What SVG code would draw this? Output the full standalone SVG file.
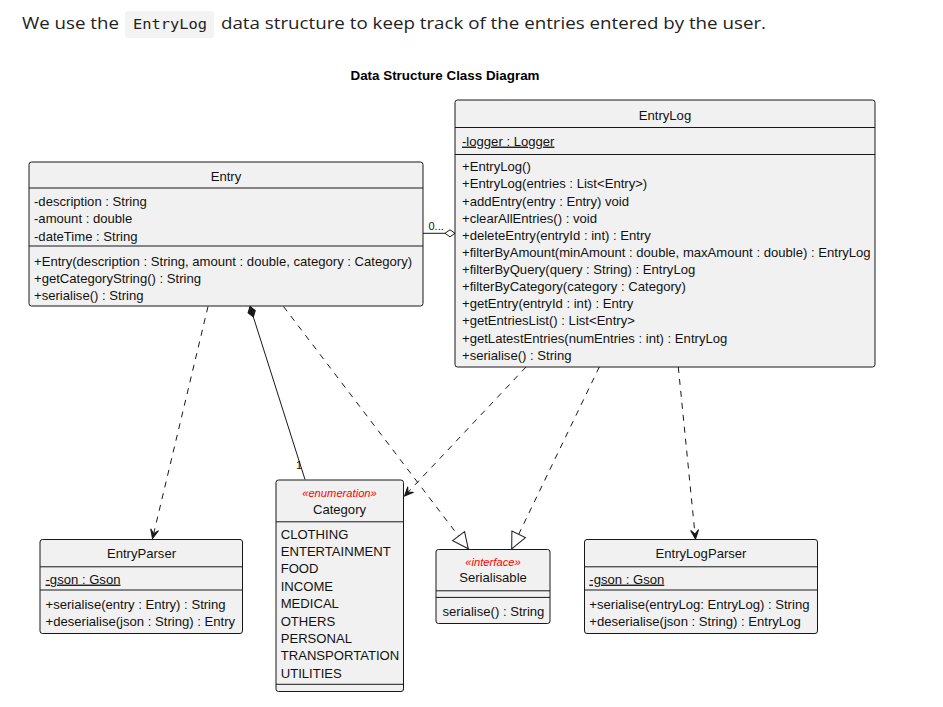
<svg xmlns="http://www.w3.org/2000/svg" width="943" height="707" viewBox="0 0 943 707">
<style>
.box{fill:#F1F1F1;stroke:#181818;stroke-width:1}
.div{stroke:#181818;stroke-width:1}
.t{font-family:"Liberation Sans",Arial,sans-serif;font-size:13.1px;fill:#111}
.c{text-anchor:middle}
.st{font-family:"Liberation Sans",Arial,sans-serif;font-size:11.2px;font-style:italic;fill:#FF0000;text-anchor:middle}
.u{text-decoration:underline}
.dash{fill:none;stroke:#181818;stroke-width:1;stroke-dasharray:6,6}
.solid{fill:none;stroke:#181818;stroke-width:1}
.lbl{font-family:"Liberation Sans",Arial,sans-serif;font-size:11px;fill:#111}
.hd{font-family:"Open Sans","Noto Sans",sans-serif;font-size:17px;fill:#222}
</style>
<defs>
<marker id="arrow" markerUnits="userSpaceOnUse" orient="auto" refX="0" refY="0" markerWidth="20" markerHeight="20" overflow="visible">
<path d="M0,0 L-9,-4 L-5,0 L-9,4 Z" fill="#181818" stroke="#181818" stroke-width="1" stroke-dasharray="none"/>
</marker>
<marker id="tri" markerUnits="userSpaceOnUse" orient="auto" refX="0" refY="0" markerWidth="20" markerHeight="20" overflow="visible">
<path d="M0,0 L-16,-7.5 L-16,7.5 Z" fill="#FFFFFF" stroke="#181818" stroke-width="1" stroke-dasharray="none"/>
</marker>
<marker id="diamondF" markerUnits="userSpaceOnUse" orient="auto" refX="0" refY="0" markerWidth="20" markerHeight="20" overflow="visible">
<path d="M0,0 L5.5,-3.8 L11,0 L5.5,3.8 Z" fill="#181818" stroke="#181818" stroke-width="1" stroke-dasharray="none"/>
</marker>
<marker id="diamondO" markerUnits="userSpaceOnUse" orient="auto" refX="0" refY="0" markerWidth="20" markerHeight="20" overflow="visible">
<path d="M0,0 L-5,-3.5 L-10,0 L-5,3.5 Z" fill="#FFFFFF" stroke="#181818" stroke-width="1" stroke-dasharray="none"/>
</marker>
</defs>
<rect x="0" y="0" width="943" height="707" fill="#FFFFFF"/>

<g id="header">
<text class="hd" x="22" y="29" textLength="97" lengthAdjust="spacingAndGlyphs">We use the</text>
<rect x="125" y="11" width="89" height="27" rx="3" fill="#F3F3F3"/>
<text x="133" y="29" font-family="'DejaVu Sans Mono','Liberation Mono',monospace" font-size="14.5" fill="#222" textLength="74" lengthAdjust="spacingAndGlyphs">EntryLog</text>
<text class="hd" x="221" y="29" textLength="545" lengthAdjust="spacingAndGlyphs">data structure to keep track of the entries entered by the user.</text>
<text x="445" y="80" font-family="'Liberation Sans',Arial,sans-serif" font-size="13.4" font-weight="bold" fill="#000" text-anchor="middle">Data Structure Class Diagram</text>
</g>

<g id="connectors">
<line class="dash" x1="208" y1="306.5" x2="152.5" y2="538.5" marker-end="url(#arrow)"/>
<line class="solid" x1="250" y1="306.5" x2="305" y2="479.5" marker-start="url(#diamondF)"/>
<text class="lbl" x="296" y="469">1</text>
<line class="dash" x1="283.5" y1="306.5" x2="468.3" y2="548.8" marker-end="url(#tri)"/>
<line class="dash" x1="526" y1="367" x2="404.5" y2="496" marker-end="url(#arrow)"/>
<line class="dash" x1="599.3" y1="367" x2="511.7" y2="548.8" marker-end="url(#tri)"/>
<line class="dash" x1="678.3" y1="367" x2="695.5" y2="539" marker-end="url(#arrow)"/>
<line class="solid" x1="423" y1="233.3" x2="455" y2="233.3" marker-end="url(#diamondO)"/>
<text class="lbl" x="428.5" y="230">0...</text>
</g>

<g id="Entry">
<rect class="box" x="29" y="162" width="394" height="144" rx="2.5"/>
<line class="div" x1="29" y1="188" x2="423" y2="188"/>
<line class="div" x1="29" y1="246" x2="423" y2="246"/>
<text class="t c" x="226" y="180.5">Entry</text>
<text class="t" x="34" y="206.3">-description : String</text>
<text class="t" x="34" y="223.3">-amount : double</text>
<text class="t" x="34" y="240.5">-dateTime : String</text>
<text class="t" x="34" y="266.3">+Entry(description : String, amount : double, category : Category)</text>
<text class="t" x="34" y="283.1">+getCategoryString() : String</text>
<text class="t" x="34" y="299.9">+serialise() : String</text>
</g>

<g id="EntryLog">
<rect class="box" x="455" y="100" width="420" height="267" rx="2.5"/>
<line class="div" x1="455" y1="127.5" x2="875" y2="127.5"/>
<line class="div" x1="455" y1="154.5" x2="875" y2="154.5"/>
<text class="t c" x="665" y="120.3">EntryLog</text>
<text class="t u" x="462" y="145.6">-logger : Logger</text>
<text class="t" x="462" y="171.3">+EntryLog()</text>
<text class="t" x="462" y="188.4">+EntryLog(entries : List&lt;Entry&gt;)</text>
<text class="t" x="462" y="205.5">+addEntry(entry : Entry) void</text>
<text class="t" x="462" y="222.7">+clearAllEntries() : void</text>
<text class="t" x="462" y="239.8">+deleteEntry(entryId : int) : Entry</text>
<text class="t" x="462" y="256.9">+filterByAmount(minAmount : double, maxAmount : double) : EntryLog</text>
<text class="t" x="462" y="274">+filterByQuery(query : String) : EntryLog</text>
<text class="t" x="462" y="291.1">+filterByCategory(category : Category)</text>
<text class="t" x="462" y="308.3">+getEntry(entryId : int) : Entry</text>
<text class="t" x="462" y="325.4">+getEntriesList() : List&lt;Entry&gt;</text>
<text class="t" x="462" y="342.5">+getLatestEntries(numEntries : int) : EntryLog</text>
<text class="t" x="462" y="359.6">+serialise() : String</text>
</g>

<g id="EntryParser">
<rect class="box" x="40" y="539.5" width="202.5" height="94" rx="2.5"/>
<line class="div" x1="40" y1="566.8" x2="242.5" y2="566.8"/>
<line class="div" x1="40" y1="590" x2="242.5" y2="590"/>
<text class="t c" x="141.5" y="558">EntryParser</text>
<text class="t u" x="45.5" y="583.6">-gson : Gson</text>
<text class="t" x="45.5" y="608.9">+serialise(entry : Entry) : String</text>
<text class="t" x="45.5" y="626.3">+deserialise(json : String) : Entry</text>
</g>

<g id="Category">
<rect class="box" x="276" y="480" width="127.5" height="211.5" rx="2.5"/>
<line class="div" x1="276" y1="521.8" x2="403.5" y2="521.8"/>
<line class="div" x1="276" y1="684.3" x2="403.5" y2="684.3"/>
<text class="st" x="339.5" y="497.2">«enumeration»</text>
<text class="t c" x="339.5" y="514">Category</text>
<text class="t" x="280.7" y="538.7">CLOTHING</text>
<text class="t" x="280.7" y="556">ENTERTAINMENT</text>
<text class="t" x="280.7" y="573.4">FOOD</text>
<text class="t" x="280.7" y="590.8">INCOME</text>
<text class="t" x="280.7" y="608.2">MEDICAL</text>
<text class="t" x="280.7" y="625.6">OTHERS</text>
<text class="t" x="280.7" y="643">PERSONAL</text>
<text class="t" x="280.7" y="660.3">TRANSPORTATION</text>
<text class="t" x="280.7" y="677.7">UTILITIES</text>
</g>

<g id="Serialisable">
<rect class="box" x="436" y="549.5" width="114" height="74" rx="2.5"/>
<line class="div" x1="436" y1="590.8" x2="550" y2="590.8"/>
<line class="div" x1="436" y1="597.4" x2="550" y2="597.4"/>
<text class="st" x="493" y="565.6">«interface»</text>
<text class="t c" x="493" y="582.4">Serialisable</text>
<text class="t" x="442.5" y="616.3">serialise() : String</text>
</g>

<g id="EntryLogParser">
<rect class="box" x="584.5" y="539.5" width="233" height="94" rx="2.5"/>
<line class="div" x1="584.5" y1="566.8" x2="817.5" y2="566.8"/>
<line class="div" x1="584.5" y1="590" x2="817.5" y2="590"/>
<text class="t c" x="701" y="558">EntryLogParser</text>
<text class="t u" x="589.3" y="583.6">-gson : Gson</text>
<text class="t" x="589.3" y="608.9">+serialise(entryLog: EntryLog) : String</text>
<text class="t" x="589.3" y="626.3">+deserialise(json : String) : EntryLog</text>
</g>
</svg>
